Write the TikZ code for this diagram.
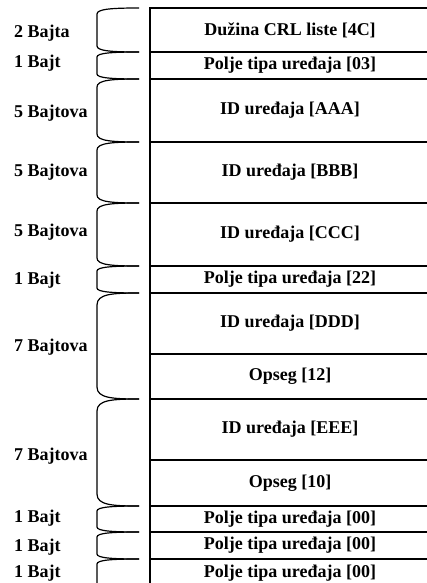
\documentclass[tikz,border=0pt]{standalone}
\usepackage{fontspec}
\setmainfont{Liberation Serif}
\begin{document}
\begin{tikzpicture}[x=1pt,y=-1pt,
  field/.style={minimum width=280pt, inner sep=0pt, outer sep=0pt,
    anchor=north west, font=\fontsize{18}{20}\selectfont\bfseries},
  sizelabel/.style={anchor=west, inner sep=0pt,
    font=\fontsize{18}{20}\selectfont\bfseries},
  rule/.style={line width=2.2pt},
  brc/.style={line width=1.2pt}]
\useasboundingbox (0,0) rectangle (427,583);

% record fields
\node[field, minimum height=44pt] (f1)  at (150,8)   {Dužina CRL liste [4C]};
\node[field, minimum height=27pt] (f2)  at (150,52)  {Polje tipa uređaja [03]};
\node[field, minimum height=63pt] (f3)  at (150,79)  {ID uređaja [AAA]};
\node[field, minimum height=61pt] (f4)  at (150,142) {ID uređaja [BBB]};
\node[field, minimum height=63pt] (f5)  at (150,203) {ID uređaja [CCC]};
\node[field, minimum height=27pt] (f6)  at (150,266) {Polje tipa uređaja [22]};
\node[field, minimum height=61pt] (f7)  at (150,293) {ID uređaja [DDD]};
\node[field, minimum height=45pt] (f8)  at (150,354) {Opseg [12]};
\node[field, minimum height=61pt] (f9)  at (150,399) {ID uređaja [EEE]};
\node[field, minimum height=46pt] (f10) at (150,460) {Opseg [10]};
\node[field, minimum height=26pt] (f11) at (150,506) {Polje tipa uređaja [00]};
\node[field, minimum height=27pt] (f12) at (150,532) {Polje tipa uređaja [00]};
\node[field, minimum height=28pt] (f13) at (150,559) {Polje tipa uređaja [00]};

% outline of the record: top edge and left edge, open at the bottom
\draw[rule, line join=miter] (f1.north east) -- (f1.north west) -- ([yshift=-12pt]f13.south west);
% separators between fields
\foreach \f in {f2,f3,f4,f5,f6,f7,f8,f9,f10,f11,f12,f13}
  \draw[rule] (\f.north west) -- (\f.north east);

% byte-count brackets with their labels
\foreach \t/\b/\r/\ly/\txt/\n in {
    8/52/6/33/2 Bajta/s1,
    52/79/5/63/1 Bajt/s2,
    79/142/8/113/5 Bajtova/s3,
    142/203/8/172/5 Bajtova/s4,
    203/266/8/232/5 Bajtova/s5,
    266/293/5/280/1 Bajt/s6,
    293/399/12/347/7 Bajtova/s7,
    399/506/12/456/7 Bajtova/s8,
    506/532/5/518/1 Bajt/s9,
    532/559/5/547/1 Bajt/s10,
    559/610/5/573/1 Bajt/s11}{
  \draw[brc] (139,\t) .. controls (112,\t) and (97,{\t+1}) .. (97,{\t+\r})
    -- (97,{\b-\r}) .. controls (97,{\b-1}) and (112,\b) .. (139,\b);
  \node[sizelabel] (\n) at (14,\ly) {\txt};
}
\end{tikzpicture}
\end{document}
